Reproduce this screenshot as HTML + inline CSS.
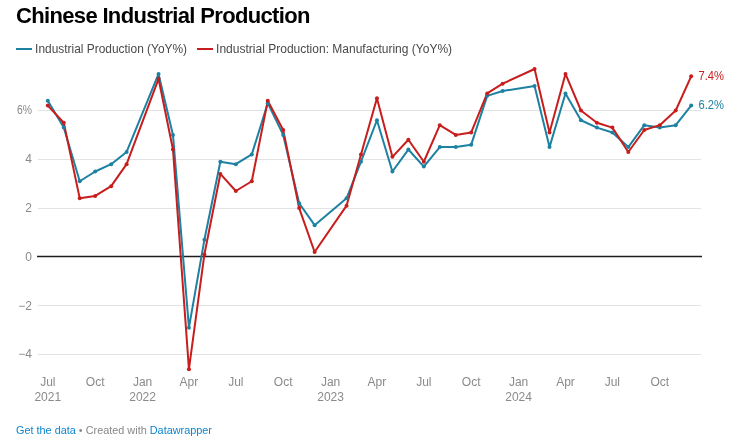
<!DOCTYPE html>
<html><head><meta charset="utf-8"><style>
html,body{margin:0;padding:0;background:#fff;width:743px;height:444px;overflow:hidden}
body{position:relative;font-family:"Liberation Sans",sans-serif}
svg{position:absolute;left:0;top:0;will-change:transform}
.t{will-change:transform}
.t{position:absolute;left:16px;top:5px;font-weight:bold;font-size:22px;color:#000;white-space:nowrap;letter-spacing:-0.66px;line-height:1}
</style></head><body>
<div class="t">Chinese Industrial Production</div>
<svg width="743" height="444" viewBox="0 0 743 444" font-family="Liberation Sans, sans-serif">
<g stroke="#e3e3e3" stroke-width="1"><line x1="38" x2="701" y1="110.5" y2="110.5"/><line x1="38" x2="701" y1="159.5" y2="159.5"/><line x1="38" x2="701" y1="208.5" y2="208.5"/><line x1="38" x2="701" y1="305.5" y2="305.5"/><line x1="38" x2="701" y1="354.5" y2="354.5"/></g>
<rect x="37" y="255.75" width="665" height="1.5" fill="#1d1d1d"/>
<g fill="#8a8a8a" font-size="12" text-anchor="end"><text x="32" y="114" textLength="15" lengthAdjust="spacingAndGlyphs">6%</text><text x="32" y="163">4</text><text x="32" y="212">2</text><text x="32" y="310">−2</text><text x="32" y="358">−4</text><text x="32" y="261">0</text></g>
<g fill="#8a8a8a" font-size="12" text-anchor="middle"><text x="47.80" y="386">Jul</text><text x="47.80" y="401">2021</text><text x="95.19" y="386">Oct</text><text x="142.58" y="386">Jan</text><text x="142.58" y="401">2022</text><text x="188.94" y="386">Apr</text><text x="235.81" y="386">Jul</text><text x="283.20" y="386">Oct</text><text x="330.59" y="386">Jan</text><text x="330.59" y="401">2023</text><text x="376.95" y="386">Apr</text><text x="423.82" y="386">Jul</text><text x="471.21" y="386">Oct</text><text x="518.60" y="386">Jan</text><text x="518.60" y="401">2024</text><text x="565.48" y="386">Apr</text><text x="612.35" y="386">Jul</text><text x="659.74" y="386">Oct</text></g>
<g fill="none" stroke-width="2" stroke-linejoin="round" stroke-linecap="round">
<path d="M47.80,100.74 L63.77,127.58 L79.74,181.26 L95.19,171.50 L111.16,164.18 L126.61,151.98 L158.55,73.90 L172.97,134.90 L188.94,327.66 L204.39,239.82 L220.36,161.74 L235.81,164.18 L251.78,154.42 L267.75,103.18 L283.20,134.90 L299.17,203.22 L314.62,225.18 L346.56,198.34 L360.98,161.74 L376.95,120.26 L392.40,171.50 L408.37,149.54 L423.82,166.62 L439.79,147.10 L455.76,147.10 L471.21,144.66 L487.18,95.86 L502.63,90.98 L534.57,86.10 L549.51,147.10 L565.48,93.42 L580.93,120.26 L596.90,127.58 L612.35,132.46 L628.32,147.10 L644.29,125.14 L659.74,127.58 L675.71,125.14 L691.16,105.62" stroke="#1d81a2"/>
<path d="M47.80,105.62 L63.77,122.70 L79.74,198.34 L95.19,195.90 L111.16,186.14 L126.61,164.18 L158.55,78.78 L172.97,149.54 L188.94,369.14 L204.39,254.46 L220.36,173.94 L235.81,191.02 L251.78,181.26 L267.75,100.74 L283.20,130.02 L299.17,208.10 L314.62,252.02 L346.56,205.66 L360.98,154.42 L376.95,98.30 L392.40,156.86 L408.37,139.78 L423.82,161.74 L439.79,125.14 L455.76,134.90 L471.21,132.46 L487.18,93.42 L502.63,83.66 L534.57,69.02 L549.51,132.46 L565.48,73.90 L580.93,110.50 L596.90,122.70 L612.35,127.58 L628.32,151.98 L644.29,130.02 L659.74,125.14 L675.71,110.50 L691.16,76.34" stroke="#c71e1d"/>
</g>
<g fill="#1d81a2"><circle cx="47.80" cy="100.74" r="2"/><circle cx="63.77" cy="127.58" r="2"/><circle cx="79.74" cy="181.26" r="2"/><circle cx="95.19" cy="171.50" r="2"/><circle cx="111.16" cy="164.18" r="2"/><circle cx="126.61" cy="151.98" r="2"/><circle cx="158.55" cy="73.90" r="2"/><circle cx="172.97" cy="134.90" r="2"/><circle cx="188.94" cy="327.66" r="2"/><circle cx="204.39" cy="239.82" r="2"/><circle cx="220.36" cy="161.74" r="2"/><circle cx="235.81" cy="164.18" r="2"/><circle cx="251.78" cy="154.42" r="2"/><circle cx="267.75" cy="103.18" r="2"/><circle cx="283.20" cy="134.90" r="2"/><circle cx="299.17" cy="203.22" r="2"/><circle cx="314.62" cy="225.18" r="2"/><circle cx="346.56" cy="198.34" r="2"/><circle cx="360.98" cy="161.74" r="2"/><circle cx="376.95" cy="120.26" r="2"/><circle cx="392.40" cy="171.50" r="2"/><circle cx="408.37" cy="149.54" r="2"/><circle cx="423.82" cy="166.62" r="2"/><circle cx="439.79" cy="147.10" r="2"/><circle cx="455.76" cy="147.10" r="2"/><circle cx="471.21" cy="144.66" r="2"/><circle cx="487.18" cy="95.86" r="2"/><circle cx="502.63" cy="90.98" r="2"/><circle cx="534.57" cy="86.10" r="2"/><circle cx="549.51" cy="147.10" r="2"/><circle cx="565.48" cy="93.42" r="2"/><circle cx="580.93" cy="120.26" r="2"/><circle cx="596.90" cy="127.58" r="2"/><circle cx="612.35" cy="132.46" r="2"/><circle cx="628.32" cy="147.10" r="2"/><circle cx="644.29" cy="125.14" r="2"/><circle cx="659.74" cy="127.58" r="2"/><circle cx="675.71" cy="125.14" r="2"/><circle cx="691.16" cy="105.62" r="2"/></g>
<g fill="#c71e1d"><circle cx="47.80" cy="105.62" r="2"/><circle cx="63.77" cy="122.70" r="2"/><circle cx="79.74" cy="198.34" r="2"/><circle cx="95.19" cy="195.90" r="2"/><circle cx="111.16" cy="186.14" r="2"/><circle cx="126.61" cy="164.18" r="2"/><circle cx="158.55" cy="78.78" r="2"/><circle cx="172.97" cy="149.54" r="2"/><circle cx="188.94" cy="369.14" r="2"/><circle cx="204.39" cy="254.46" r="2"/><circle cx="220.36" cy="173.94" r="2"/><circle cx="235.81" cy="191.02" r="2"/><circle cx="251.78" cy="181.26" r="2"/><circle cx="267.75" cy="100.74" r="2"/><circle cx="283.20" cy="130.02" r="2"/><circle cx="299.17" cy="208.10" r="2"/><circle cx="314.62" cy="252.02" r="2"/><circle cx="346.56" cy="205.66" r="2"/><circle cx="360.98" cy="154.42" r="2"/><circle cx="376.95" cy="98.30" r="2"/><circle cx="392.40" cy="156.86" r="2"/><circle cx="408.37" cy="139.78" r="2"/><circle cx="423.82" cy="161.74" r="2"/><circle cx="439.79" cy="125.14" r="2"/><circle cx="455.76" cy="134.90" r="2"/><circle cx="471.21" cy="132.46" r="2"/><circle cx="487.18" cy="93.42" r="2"/><circle cx="502.63" cy="83.66" r="2"/><circle cx="534.57" cy="69.02" r="2"/><circle cx="549.51" cy="132.46" r="2"/><circle cx="565.48" cy="73.90" r="2"/><circle cx="580.93" cy="110.50" r="2"/><circle cx="596.90" cy="122.70" r="2"/><circle cx="612.35" cy="127.58" r="2"/><circle cx="628.32" cy="151.98" r="2"/><circle cx="644.29" cy="130.02" r="2"/><circle cx="659.74" cy="125.14" r="2"/><circle cx="675.71" cy="110.50" r="2"/><circle cx="691.16" cy="76.34" r="2"/></g>
<text x="698.5" y="80" fill="#c71e1d" font-size="12" textLength="25.5" lengthAdjust="spacingAndGlyphs">7.4%</text>
<text x="698.5" y="109" fill="#1d81a2" font-size="12" textLength="25.5" lengthAdjust="spacingAndGlyphs">6.2%</text>
<g font-size="12" fill="#494949">
<rect x="16" y="48" width="16" height="2" fill="#1d81a2"/>
<text x="35.1" y="53" textLength="152" lengthAdjust="spacingAndGlyphs">Industrial Production (YoY%)</text>
<rect x="197" y="48" width="16" height="2" fill="#c71e1d"/>
<text x="216.1" y="53" textLength="236" lengthAdjust="spacingAndGlyphs">Industrial Production: Manufacturing (YoY%)</text>
</g>
<g font-size="11">
<text x="16" y="434" textLength="196" lengthAdjust="spacingAndGlyphs"><tspan fill="#0d85cc">Get the data</tspan><tspan fill="#888888"> • Created with </tspan><tspan fill="#0d85cc">Datawrapper</tspan></text>
</g>
</svg>
</body></html>
